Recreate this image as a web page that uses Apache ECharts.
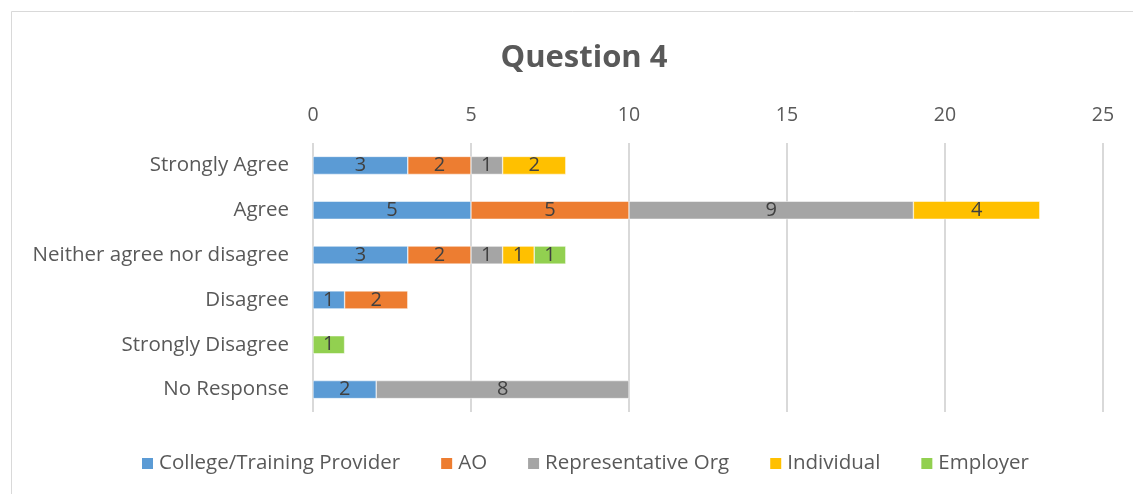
<!DOCTYPE html>
<html>
<head>
<meta charset="utf-8">
<script src="https://cdn.jsdelivr.net/npm/echarts@6/dist/echarts.min.js"></script>
<style>
  html, body { margin: 0; padding: 0; background: #fff; }
  #chart { width: 1133px; height: 494px; }
</style>
</head>
<body>
<div id="chart"></div>
<script>
// categories, top to bottom
const categories = [
  "Strongly Agree",
  "Agree",
  "Neither agree nor disagree",
  "Disagree",
  "Strongly Disagree",
  "No Response",
];
const collegeProvider = [3, 5, 3, 1, 0, 2];
const ao = [2, 5, 2, 2, 0, 0];
const representativeOrg = [1, 9, 1, 0, 0, 8];
const individual = [2, 4, 1, 0, 0, 0];
const employer = [0, 0, 1, 0, 1, 0];

const seriesDefs = [
  { name: "College/Training Provider", data: collegeProvider, color: "#5b9bd5" },
  { name: "AO", data: ao, color: "#ed7d31" },
  { name: "Representative Org", data: representativeOrg, color: "#a5a5a5" },
  { name: "Individual", data: individual, color: "#ffc000" },
  { name: "Employer", data: employer, color: "#92d050" },
];

const font = "'Open Sans', 'Noto Sans', sans-serif";
const chart = echarts.init(document.getElementById("chart"));

chart.setOption({
  backgroundColor: "#fff",
  textStyle: { fontFamily: font },
  graphic: [
    {
      type: "rect",
      shape: { x: 11.5, y: 11.5, width: 1200, height: 600 },
      style: { fill: "none", stroke: "#d9d9d9", lineWidth: 1 },
      silent: true,
    },
  ],
  title: {
    text: "Question 4",
    left: 579,
    top: 38,
    textAlign: "center",
    textStyle: { fontFamily: font, fontSize: 31, fontWeight: "bold", color: "#595959" },
  },
  legend: {
    bottom: 15,
    left: 135,
    itemWidth: 13,
    itemHeight: 13,
    itemGap: 39,
    icon: "rect",
    textStyle: { fontFamily: font, fontSize: 20.5, color: "#595959" },
    data: seriesDefs.map((s) => s.name),
  },
  grid: {
    left: 313,
    right: 30,
    top: 143,
    bottom: 82,
  },
  xAxis: {
    type: "value",
    position: "top",
    min: 0,
    max: 25,
    interval: 5,
    axisLine: { show: false },
    axisTick: { show: false },
    axisLabel: { color: "#595959", fontSize: 19.5, fontFamily: font, margin: 18 },
    splitLine: { lineStyle: { color: "#d9d9d9", width: 2 } },
  },
  yAxis: {
    type: "category",
    inverse: true,
    data: categories,
    axisLine: { show: false },
    axisTick: { show: false },
    axisLabel: { color: "#595959", fontSize: 20.5, fontFamily: font, margin: 24 },
  },
  series: seriesDefs.map((s) => ({
    name: s.name,
    type: "bar",
    stack: "total",
    barWidth: 18,
    data: s.data.map((v) => (v === 0 ? null : v)),
    itemStyle: { color: s.color, borderColor: "#fff", borderWidth: 0.5 },
    label: {
      show: true,
      position: "inside",
      color: "#404040",
      fontSize: 20,
      fontFamily: font,
    },
  })),
});
</script>
</body>
</html>
